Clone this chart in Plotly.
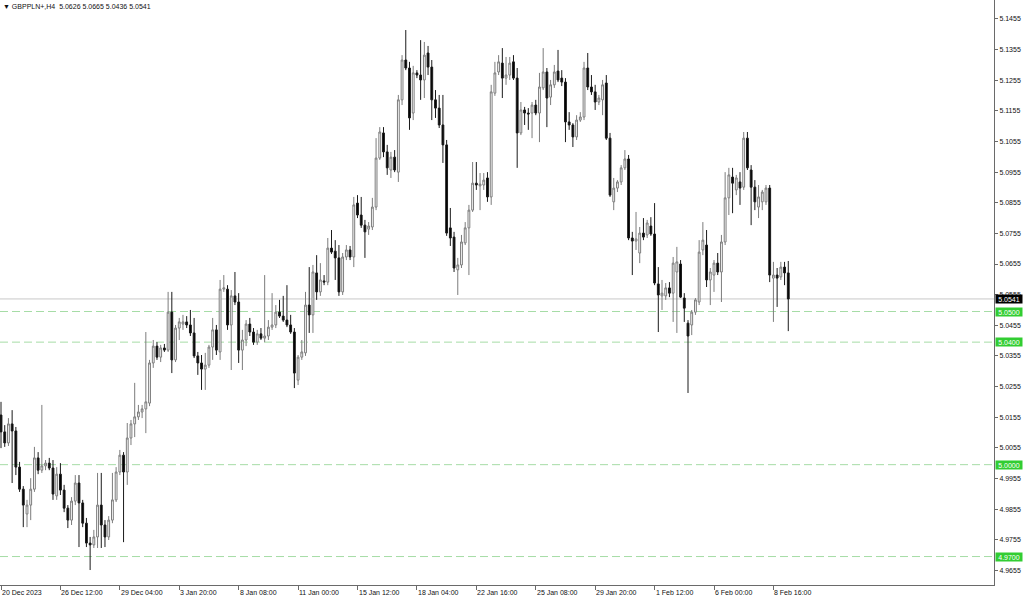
import plotly.graph_objects as go

# ---------------- data (H4 bars, GBPPLN+) ----------------
open_ = [5.0162,5.0107,5.0071,5.0133,5.0110,4.9992,4.9920,4.9839,4.9868,4.9920,
         5.0022,4.9982,4.9996,5.0005,4.9989,4.9898,4.9969,4.9917,4.9858,4.9819,
         4.9881,4.9940,4.9875,4.9809,4.9744,4.9738,4.9764,4.9868,4.9803,4.9764,
         4.9819,4.9885,4.9976,5.0031,4.9976,5.0087,5.0133,5.0156,5.0172,5.0182,
         5.0201,5.0332,5.0387,5.0351,5.0381,5.0374,5.0498,5.0342,5.0446,5.0459,
         5.0466,5.0456,5.0430,5.0355,5.0332,5.0312,5.0325,5.0384,5.0440,5.0368,
         5.0573,5.0573,5.0456,5.0551,5.0531,5.0374,5.0407,5.0459,5.0433,5.0400,
         5.0427,5.0413,5.0420,5.0449,5.0456,5.0498,5.0485,5.0472,5.0456,5.0433,
         5.0276,5.0351,5.0365,5.0521,5.0489,5.0626,5.0564,5.0600,5.0596,5.0707,
         5.0697,5.0675,5.0564,5.0678,5.0701,5.0678,5.0854,5.0815,5.0782,5.0769,
         5.0776,5.0841,5.1001,5.1083,5.1021,5.0962,5.1004,5.0955,5.1191,5.1321,
         5.1295,5.1148,5.1279,5.1272,5.1256,5.1344,5.1298,5.1191,5.1164,5.1109,
         5.1044,5.0773,5.0743,5.0636,5.0652,5.0724,5.0773,5.0831,5.0919,5.0910,
         5.0913,5.0936,5.0874,5.1213,5.1282,5.1311,5.1262,5.1272,5.1315,5.1262,
         5.1083,5.1158,5.1148,5.1148,5.1174,5.1148,5.1230,5.1282,5.1200,5.1240,
         5.1285,5.1262,5.1249,5.1119,5.1109,5.1070,5.1125,5.1135,5.1295,5.1233,
         5.1217,5.1184,5.1191,5.1246,5.1066,5.0858,5.0903,5.0923,5.0969,5.0998,
         5.0740,5.0730,5.0691,5.0756,5.0750,5.0779,5.0753,5.0590,5.0551,5.0551,
         5.0577,5.0560,5.0629,5.0655,5.0544,5.0462,5.0456,5.0498,5.0531,5.0701,
         5.0717,5.0603,5.0619,5.0658,5.0629,5.0727,5.0871,5.0939,5.0897,5.0923,
         5.0906,5.1066,5.0962,5.0906,5.0841,5.0858,5.0858,5.0903,5.0609,5.0619,
         5.0613,5.0645,5.0626]
high = [5.0205,5.0129,5.0152,5.0178,5.0123,5.0009,4.9930,4.9885,4.9956,5.0058,
        5.0041,5.0195,5.0015,5.0022,5.0015,4.9992,5.0005,4.9934,4.9868,4.9894,
        4.9966,4.9966,4.9885,4.9826,4.9764,4.9787,4.9973,4.9973,4.9819,4.9832,
        4.9973,4.9992,5.0048,5.0041,5.0136,5.0146,5.0267,5.0195,5.0195,5.0433,
        5.0342,5.0407,5.0400,5.0391,5.0394,5.0564,5.0564,5.0456,5.0479,5.0489,
        5.0485,5.0505,5.0479,5.0368,5.0358,5.0365,5.0391,5.0479,5.0456,5.0603,
        5.0619,5.0586,5.0570,5.0629,5.0560,5.0440,5.0472,5.0479,5.0446,5.0440,
        5.0446,5.0619,5.0472,5.0560,5.0521,5.0538,5.0551,5.0586,5.0489,5.0446,
        5.0358,5.0407,5.0564,5.0645,5.0652,5.0684,5.0658,5.0619,5.0740,5.0766,
        5.0733,5.0717,5.0691,5.0717,5.0714,5.0874,5.0880,5.0874,5.0799,5.0792,
        5.0871,5.1066,5.1102,5.1102,5.1044,5.1021,5.1027,5.1207,5.1337,5.1419,
        5.1315,5.1302,5.1288,5.1386,5.1380,5.1367,5.1321,5.1223,5.1207,5.1207,
        5.1060,5.0838,5.0760,5.0675,5.0750,5.0792,5.0848,5.0988,5.0988,5.0952,
        5.0952,5.0955,5.1240,5.1315,5.1337,5.1360,5.1331,5.1331,5.1337,5.1295,
        5.1184,5.1168,5.1164,5.1184,5.1191,5.1279,5.1360,5.1295,5.1256,5.1305,
        5.1354,5.1288,5.1262,5.1151,5.1115,5.1141,5.1151,5.1315,5.1344,5.1272,
        5.1240,5.1207,5.1256,5.1272,5.1083,5.0936,5.0929,5.0978,5.1027,5.1011,
        5.0760,5.0825,5.0776,5.0805,5.0799,5.0808,5.0854,5.0645,5.0603,5.0593,
        5.0596,5.0678,5.0711,5.0668,5.0560,5.0472,5.0505,5.0544,5.0733,5.0792,
        5.0766,5.0642,5.0668,5.0691,5.0750,5.0955,5.0969,5.0969,5.0946,5.0955,
        5.1086,5.1086,5.0978,5.0929,5.0913,5.0897,5.0913,5.0913,5.0662,5.0642,
        5.0662,5.0662,5.0665]
low = [5.0054,5.0058,5.0061,4.9940,4.9966,4.9911,4.9796,4.9796,4.9819,4.9911,
       4.9969,4.9973,4.9982,4.9982,4.9885,4.9885,4.9901,4.9845,4.9793,4.9803,
       4.9868,4.9731,4.9796,4.9731,4.9656,4.9728,4.9728,4.9728,4.9731,4.9754,
       4.9809,4.9878,4.9966,4.9747,4.9934,5.0064,5.0090,5.0146,5.0152,5.0103,
       5.0191,5.0316,5.0342,5.0335,5.0368,5.0368,5.0299,5.0335,5.0407,5.0440,
       5.0446,5.0420,5.0348,5.0293,5.0244,5.0244,5.0316,5.0342,5.0358,5.0342,
       5.0564,5.0440,5.0309,5.0521,5.0332,5.0309,5.0387,5.0420,5.0391,5.0391,
       5.0407,5.0400,5.0407,5.0440,5.0446,5.0479,5.0466,5.0449,5.0427,5.0250,
       5.0260,5.0342,5.0355,5.0430,5.0430,5.0538,5.0551,5.0586,5.0586,5.0688,
       5.0603,5.0551,5.0554,5.0668,5.0668,5.0645,5.0805,5.0773,5.0675,5.0750,
       5.0766,5.0831,5.0995,5.1004,5.0946,5.0936,5.0955,5.0923,5.1174,5.1288,
       5.1093,5.1125,5.1262,5.1191,5.1197,5.1272,5.1125,5.1132,5.1099,5.0985,
       5.0747,5.0714,5.0629,5.0554,5.0642,5.0717,5.0619,5.0825,5.0897,5.0831,
       5.0897,5.0858,5.0848,5.1204,5.1272,5.1197,5.1240,5.1256,5.1256,5.0969,
       5.1076,5.1109,5.1093,5.1066,5.1141,5.1053,5.1223,5.1102,5.1174,5.1230,
       5.1249,5.1236,5.1053,5.1093,5.1037,5.1060,5.1119,5.1125,5.1223,5.1207,
       5.1158,5.1174,5.1141,5.1060,5.0874,5.0831,5.0890,5.0913,5.0962,5.0733,
       5.0619,5.0701,5.0658,5.0733,5.0740,5.0747,5.0586,5.0433,5.0505,5.0538,
       5.0547,5.0466,5.0430,5.0544,5.0466,5.0234,5.0423,5.0489,5.0521,5.0684,
       5.0580,5.0521,5.0564,5.0619,5.0531,5.0717,5.0815,5.0821,5.0880,5.0848,
       5.0897,5.0962,5.0782,5.0831,5.0805,5.0831,5.0848,5.0596,5.0466,5.0515,
       5.0603,5.0586,5.0436]
close = [5.0107,5.0071,5.0133,5.0110,4.9992,4.9920,4.9868,4.9868,4.9920,5.0022,
         4.9982,4.9996,5.0005,4.9989,4.9904,4.9969,4.9917,4.9858,4.9819,4.9881,
         4.9940,4.9875,4.9809,4.9744,4.9738,4.9764,4.9868,4.9803,4.9764,4.9819,
         4.9885,4.9976,5.0031,4.9976,5.0087,5.0133,5.0156,5.0172,5.0182,5.0205,
         5.0332,5.0387,5.0351,5.0381,5.0374,5.0498,5.0342,5.0446,5.0466,5.0466,
         5.0456,5.0430,5.0355,5.0332,5.0312,5.0325,5.0384,5.0440,5.0374,5.0573,
         5.0577,5.0456,5.0551,5.0531,5.0374,5.0407,5.0459,5.0433,5.0400,5.0427,
         5.0413,5.0420,5.0449,5.0456,5.0498,5.0485,5.0472,5.0456,5.0433,5.0299,
         5.0351,5.0368,5.0521,5.0489,5.0629,5.0564,5.0603,5.0596,5.0707,5.0694,
         5.0675,5.0564,5.0678,5.0701,5.0678,5.0848,5.0815,5.0782,5.0760,5.0779,
         5.0841,5.1001,5.1086,5.1021,5.0969,5.1004,5.0962,5.1191,5.1321,5.1295,
         5.1132,5.1279,5.1272,5.1256,5.1337,5.1298,5.1191,5.1164,5.1109,5.1044,
         5.0756,5.0740,5.0642,5.0652,5.0727,5.0773,5.0831,5.0919,5.0913,5.0916,
         5.0929,5.0874,5.1217,5.1279,5.1315,5.1262,5.1272,5.1311,5.1262,5.1083,
         5.1158,5.1148,5.1145,5.1174,5.1148,5.1233,5.1282,5.1197,5.1240,5.1282,
         5.1256,5.1249,5.1119,5.1109,5.1070,5.1125,5.1135,5.1295,5.1233,5.1217,
         5.1184,5.1197,5.1240,5.1066,5.0880,5.0903,5.0923,5.0969,5.0998,5.0740,
         5.0730,5.0737,5.0756,5.0743,5.0789,5.0753,5.0593,5.0554,5.0560,5.0577,
         5.0560,5.0658,5.0662,5.0547,5.0511,5.0420,5.0498,5.0538,5.0694,5.0733,
         5.0603,5.0629,5.0658,5.0629,5.0727,5.0871,5.0946,5.0919,5.0936,5.0903,
         5.1066,5.0969,5.0906,5.0858,5.0874,5.0890,5.0903,5.0619,5.0619,5.0609,
         5.0645,5.0626,5.0541]

time_labels = ["20 Dec 2023", "26 Dec 12:00", "29 Dec 04:00", "3 Jan 20:00",
               "8 Jan 08:00", "11 Jan 00:00", "15 Jan 12:00", "18 Jan 04:00",
               "22 Jan 16:00", "25 Jan 08:00", "29 Jan 20:00", "1 Feb 12:00",
               "6 Feb 00:00", "8 Feb 16:00"]
bars_per_label = 16

price_ticks = ["5.1455", "5.1355", "5.1255", "5.1155", "5.1055", "5.0955",
               "5.0855", "5.0755", "5.0655", "5.0555", "5.0455", "5.0355",
               "5.0255", "5.0155", "5.0055", "4.9955", "4.9855", "4.9755",
               "4.9655"]

level_prices = [5.0500, 5.0400, 5.0000, 4.9700]
last_price = 5.0541
title_text = "\u25bc GBPPLN+,H4  5.0626 5.0665 5.0436 5.0541"

# ---------------- figure ----------------
bar_idx = list(range(len(close)))
tick_bars = [k * bars_per_label for k in range(len(time_labels))]
FONT = "Liberation Sans, Arial, sans-serif"
AXC = "#6a6a6a"

fig = go.Figure(go.Candlestick(
    x=bar_idx, open=open_, high=high, low=low, close=close,
    increasing=dict(line=dict(color="#7c7c7c", width=1), fillcolor="#ffffff"),
    decreasing=dict(line=dict(color="#1a1a1a", width=1), fillcolor="#000000"),
    whiskerwidth=0, hoverinfo="skip", showlegend=False))

shapes = [dict(type="line", xref="paper", x0=0, x1=1, yref="y",
               y0=last_price, y1=last_price, layer="below",
               line=dict(color="#c8c8c8", width=1))]
for lv in level_prices:
    shapes.append(dict(type="line", xref="paper", x0=0, x1=1, yref="y",
                       y0=lv, y1=lv, layer="below",
                       line=dict(color="#a6dca6", width=1, dash="8px,4px")))

ann = []
for tb, lab in zip(tick_bars, time_labels):
    ann.append(dict(x=tb, y=0, xref="x", yref="paper", text=lab,
                    showarrow=False, xanchor="left", yanchor="top",
                    xshift=-1, yshift=-2,
                    font=dict(family=FONT, size=7, color="#111111")))
ann.append(dict(x=0, y=1, xref="paper", yref="paper", text=title_text,
                showarrow=False, xanchor="left", yanchor="top",
                xshift=1, yshift=-1,
                font=dict(family=FONT, size=7, color="#111111")))
ann.append(dict(x=1, y=last_price, xref="paper", yref="y",
                text="%.4f" % last_price, showarrow=False,
                xanchor="left", yanchor="middle", xshift=1,
                width=26, height=8, align="center", borderpad=0,
                bgcolor="#000000", font=dict(family=FONT, size=7, color="#ffffff")))
for lv in level_prices:
    ann.append(dict(x=1, y=lv, xref="paper", yref="y",
                    text="%.4f" % lv, showarrow=False,
                    xanchor="left", yanchor="middle", xshift=1,
                    width=26, height=8, align="center", borderpad=0,
                    bgcolor="#32cd32", font=dict(family=FONT, size=7, color="#ffffff")))

fig.update_layout(
    width=1024, height=599,
    margin=dict(l=0, r=30, t=0, b=14),
    paper_bgcolor="white", plot_bgcolor="white",
    showlegend=False,
    shapes=shapes, annotations=ann,
    xaxis=dict(range=[-0.27, 267.4], showgrid=False, zeroline=False,
               showline=True, linecolor=AXC, linewidth=1,
               ticks="outside", ticklen=4, tickcolor=AXC,
               tickvals=tick_bars, showticklabels=False,
               rangeslider=dict(visible=False), fixedrange=True),
    yaxis=dict(range=[4.96071, 5.1517], side="right", showgrid=False,
               zeroline=False, showline=True, linecolor=AXC, linewidth=1,
               ticks="outside", ticklen=3, tickcolor=AXC,
               tickvals=[float(t) for t in price_ticks], ticktext=price_ticks,
               tickfont=dict(family=FONT, size=7, color="#111111"),
               fixedrange=True),
)

fig.write_html("out.html",
               config={"displayModeBar": False},
               post_script="document.body.style.margin='0';"
                           "document.body.style.overflow='hidden';")
